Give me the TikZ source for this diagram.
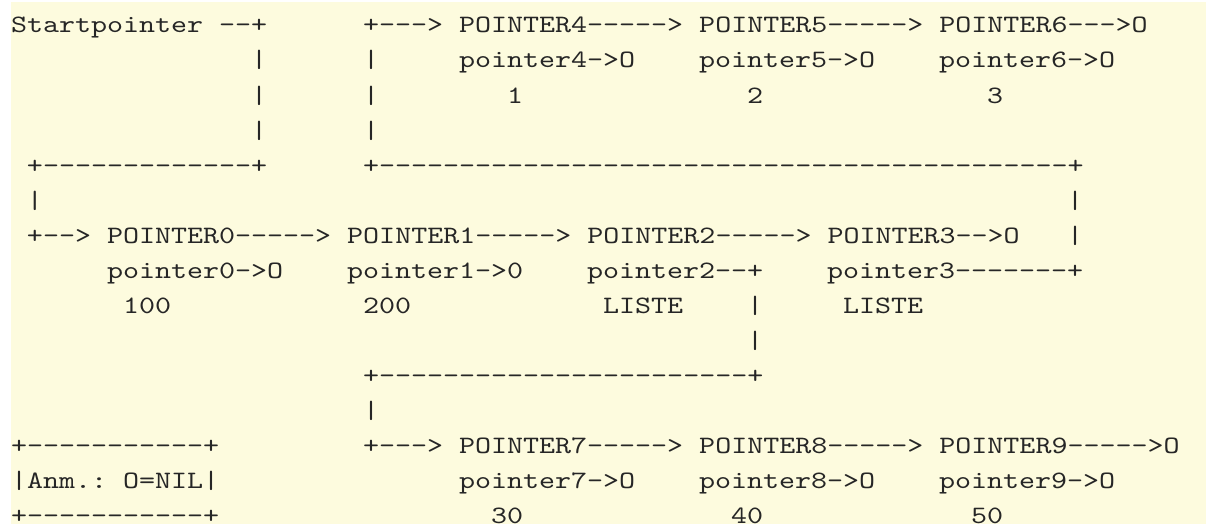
\documentclass[tikz,border=0pt]{standalone}
\usepackage{fontspec}
\setmonofont[FakeStretch=1.22]{lmmono10-regular.otf}
\definecolor{prebg}{RGB}{253,251,222}
\tikzset{ascii/.style={anchor=base west,inner sep=0pt,outer sep=0pt,text=black!85,
                       font=\ttfamily\fontsize{25pt}{35pt}\selectfont}
}

\begin{document}
\begin{tikzpicture}
\useasboundingbox (0,0) rectangle (1206pt,-524pt);
\fill[white] (0,0) rectangle (1206pt,-524pt);
\fill[prebg] (11pt,-2pt) rectangle (1206pt,-524pt);
% one unit = one character cell, rows downwards
\begin{scope}[shift={(11pt,-33pt)},x=16pt,y=-35pt]
% top list
\node[ascii] (start) at (0,0) {Startpointer --+};
\node[ascii] (top) at (22,0) {+---> POINTER4-----> POINTER5-----> POINTER6--->O};
\node[ascii] (p4) at (28,1) {pointer4->O};
\node[ascii] (p5) at (43,1) {pointer5->O};
\node[ascii] (p6) at (58,1) {pointer6->O};
\node[ascii] (v4) at (31,2) {1};
\node[ascii] (v5) at (46,2) {2};
\node[ascii] (v6) at (61,2) {3};
\foreach \r in {1,2,3}{
    \node[ascii] (sbar\r) at (15,\r) {|};
    \node[ascii] (tbar\r) at (22,\r) {|};
}
\node[ascii] (sturn) at (1,4) {+-------------+};
\node[ascii] (tturn) at (22,4) {+-------------------------------------------+};
\node[ascii] (sbar) at (1,5) {|};
\node[ascii] (rbar5) at (66,5) {|};
% main list
\node[ascii] (main) at (1,6) {+--> POINTER0-----> POINTER1-----> POINTER2-----> POINTER3-->O};
\node[ascii] (rbar6) at (66,6) {|};
\node[ascii] (p0) at (6,7) {pointer0->O};
\node[ascii] (p1) at (21,7) {pointer1->0};
\node[ascii] (p2) at (36,7) {pointer2--+};
\node[ascii] (p3) at (51,7) {pointer3-------+};
\node[ascii] (v0) at (7,8) {100};
\node[ascii] (v1) at (22,8) {200};
\node[ascii] (v2) at (37,8) {LISTE};
\node[ascii] (v3) at (52,8) {LISTE};
\node[ascii] (lbar8) at (46,8) {|};
\node[ascii] (lbar9) at (46,9) {|};
\node[ascii] (lturn) at (22,10) {+-----------------------+};
\node[ascii] (lbar11) at (22,11) {|};
% sub list
\node[ascii] (sub) at (22,12) {+---> POINTER7-----> POINTER8-----> POINTER9----->O};
\node[ascii] (p7) at (28,13) {pointer7->O};
\node[ascii] (p8) at (43,13) {pointer8->O};
\node[ascii] (p9) at (58,13) {pointer9->O};
\node[ascii] (v7) at (30,14) {30};
\node[ascii] (v8) at (45,14) {40};
\node[ascii] (v9) at (60,14) {50};
% note
\node[ascii] (notetop) at (0,12) {+-----------+};
\node[ascii] (note) at (0,13) {|Anm.: O=NIL|};
\node[ascii] (notebot) at (0,14) {+-----------+};
\end{scope}
\end{tikzpicture}
\end{document}
